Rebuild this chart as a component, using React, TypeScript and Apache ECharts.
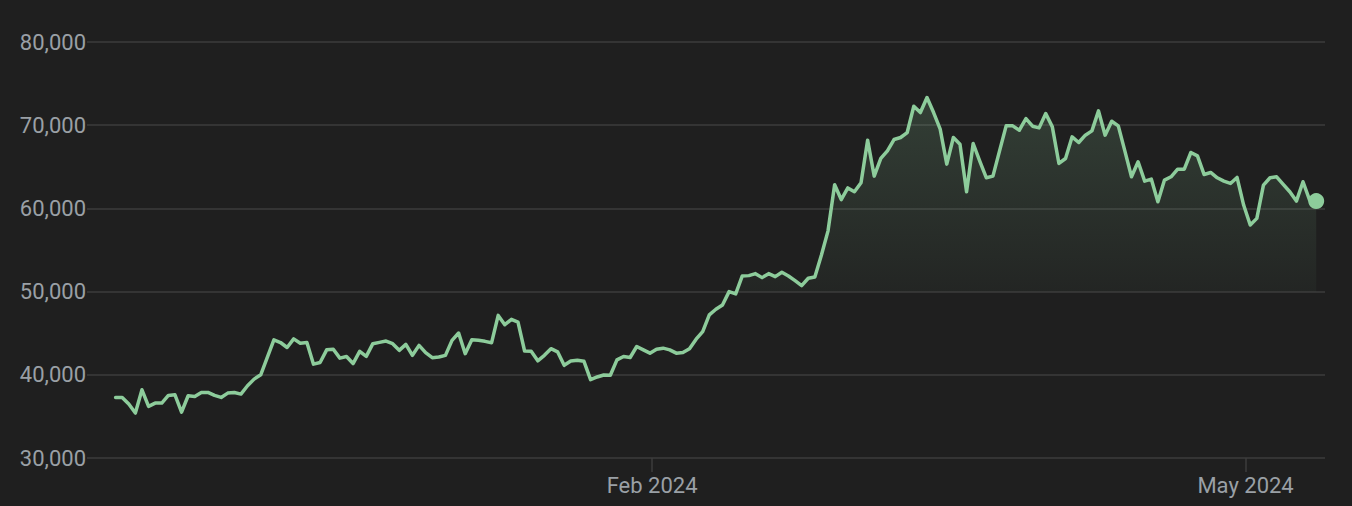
import React, { useEffect, useRef } from "react";
import * as echarts from "echarts";

// First trading day of the series (UTC): 12 Nov 2023, one value per day
const firstDay = { year: 2023, month: 10, day: 12 };

const prices: number[] = [
  37280, 37280, 36480, 35400, 38200, 36200, 36600, 36600, 37520, 37600,
  35520, 37480, 37400, 37880, 37880, 37520, 37280, 37800, 37880, 37680,
  38680, 39480, 40000, 42100, 44200, 43880, 43280, 44320, 43800, 43880,
  41280, 41480, 43000, 43080, 42000, 42200, 41350, 42820, 42220, 43740,
  43900, 44060, 43740, 42940, 43660, 42340, 43540, 42660, 42060, 42140,
  42340, 44140, 45020, 42540, 44220, 44140, 44020, 43860, 47140, 46020,
  46660, 46340, 42860, 42840, 41680, 42340, 43140, 42760, 41140, 41660,
  41740, 41620, 39420, 39740, 39980, 39940, 41800, 42200, 42080, 43400,
  43000, 42600, 43080, 43200, 43000, 42600, 42680, 43120, 44280, 45200,
  47200, 47880, 48400, 50000, 49720, 51880, 51920, 52160, 51680, 52160,
  51800, 52320, 51880, 51320, 50720, 51600, 51760, 54400, 57300, 62840,
  61060, 62460, 62000, 63080, 68200, 63880, 66000, 66920, 68280, 68520,
  69120, 72280, 71520, 73320, 71520, 69520, 65320, 68520, 67720, 62000,
  67800, 65680, 63680, 63880, 66920, 69920, 69920, 69400, 70800, 69880,
  69680, 71400, 69800, 65400, 66000, 68600, 67920, 68800, 69320, 71720,
  68800, 70480, 69920, 66880, 63800, 65600, 63280, 63520, 60800, 63400,
  63800, 64720, 64720, 66720, 66320, 64080, 64320, 63680, 63280, 63000,
  63720, 60400, 58000, 58800, 62800, 63680, 63800, 62880, 62000, 60880,
  63200, 61000, 60880,
];

// Axis ticks: local midnight (US Pacific) of the first day of the month
const tickTimes: string[] = ["2024-02-01T08:00:00Z", "2024-05-01T07:00:00Z"];
const tickLabels: string[] = ["Feb 2024", "May 2024"];

// Visible time window of the x axis
const xRange: string[] = ["2023-11-07T16:00:00Z", "2024-05-13T08:00:00Z"];

// y axis
const yMin = 30000;
const yMax = 80000;
const yStep = 10000;

// baseline of the shaded area
const areaBaseline = 50000;
const areaStartIndex = 93;

export default function App() {
  const ref = useRef<HTMLDivElement>(null);

  useEffect(() => {
    document.body.style.margin = "0";
    document.body.style.background = "#1f1f1f";
    if (!ref.current) return;
    const chart = echarts.init(ref.current, undefined, { renderer: "svg" });

    const data = prices.map((v, i) => [
      Date.UTC(firstDay.year, firstDay.month, firstDay.day + i),
      v,
    ]);
    const areaData = data.slice(areaStartIndex);
    const last = data[data.length - 1];
    const tickValues = tickTimes.map((t) => new Date(t).getTime());

    const lineColor = "#8dcc9b";
    const gridColor = "#3d3d3d";
    const labelColor = "#9aa0a6";

    chart.setOption({
      animation: false,
      backgroundColor: "#1f1f1f",
      grid: { left: 87, right: 27, top: 42, bottom: 48 },
      xAxis: {
        type: "value",
        min: new Date(xRange[0]).getTime(),
        max: new Date(xRange[1]).getTime(),
        axisLine: { show: false },
        splitLine: { show: false },
        axisTick: {
          show: true,
          customValues: tickValues,
          length: 14,
          lineStyle: { color: gridColor, width: 1.5 },
        },
        axisLabel: {
          customValues: tickValues,
          color: labelColor,
          fontFamily: "Roboto",
          fontSize: 22,
          margin: 16,
          formatter: (val: number) => {
            let best = 0;
            tickValues.forEach((t, i) => {
              if (Math.abs(t - val) < Math.abs(tickValues[best] - val)) best = i;
            });
            return tickLabels[best];
          },
        },
      },
      yAxis: {
        type: "value",
        min: yMin,
        max: yMax,
        interval: yStep,
        axisLine: { show: false },
        axisTick: { show: false },
        splitLine: { lineStyle: { color: gridColor, width: 1.5 } },
        axisLabel: {
          color: labelColor,
          fontFamily: "Roboto",
          fontSize: 22,
          margin: 1,
          formatter: (v: number) => v.toLocaleString("en-US"),
        },
      },
      series: [
        {
          type: "line",
          data: areaData,
          showSymbol: false,
          silent: true,
          lineStyle: { width: 0, opacity: 0 },
          areaStyle: {
            origin: areaBaseline,
            color: new echarts.graphic.LinearGradient(0, 0, 0, 1, [
              { offset: 0, color: "rgba(141,204,155,0.26)" },
              { offset: 1, color: "rgba(141,204,155,0.05)" },
            ]),
          },
          z: 1,
        },
        {
          type: "line",
          data,
          showSymbol: false,
          lineStyle: { color: lineColor, width: 3.5, join: "round", cap: "round" },
          z: 2,
        },
        {
          type: "scatter",
          data: [last],
          symbolSize: 16,
          itemStyle: { color: lineColor, opacity: 1 },
          z: 3,
        },
      ],
    });

    return () => chart.dispose();
  }, []);

  return <div ref={ref} style={{ width: 1352, height: 506 }} />;
}
